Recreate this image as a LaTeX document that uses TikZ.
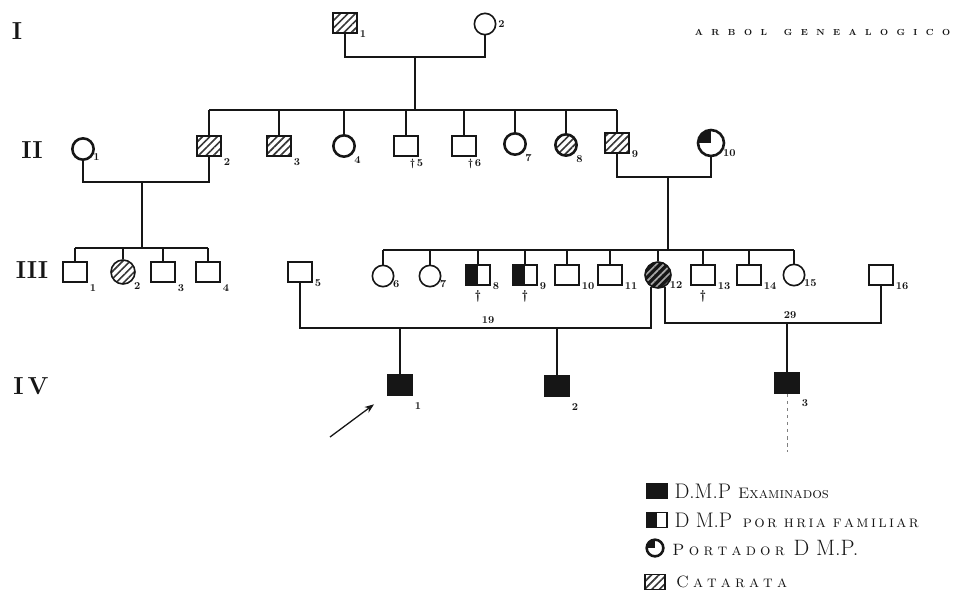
\documentclass[tikz,border=0pt]{standalone}
\usepackage{fontspec}
\usepackage{tikz}
\usetikzlibrary{patterns.meta,arrows.meta,positioning,calc}
\definecolor{ink}{RGB}{22,22,22}
\definecolor{hatch}{RGB}{55,55,55}
\newcommand\tk{\kern7.2pt}
\makeatletter
\newcommand\spreadit[2]{\def\sp@k{#1}\sp@loop#2\@nil}
\def\sp@loop#1{\ifx#1\@nil\else#1\kern\sp@k\expandafter\sp@loop\fi}
\makeatother

\begin{document}
\begin{tikzpicture}[x=0.03cm,y=-0.03cm,line width=1.4pt,color=ink,
  male/.style={draw=ink,minimum width=0.72cm,minimum height=0.6cm,inner sep=0pt},
  female/.style={draw=ink,circle,minimum size=0.64cm,inner sep=0pt},
  bold/.style={line width=2.2pt},
  cat/.style={pattern={Lines[angle=45,distance=4.5pt,line width=1.4pt]},pattern color=hatch},
  dmp/.style={fill=ink},
  half/.style={path picture={\fill[ink] (path picture bounding box.south west) rectangle (path picture bounding box.north);}},
  carrier/.style={path picture={\fill[ink] (path picture bounding box.center) -- (path picture bounding box.west) |- (path picture bounding box.north) -- cycle;}},
  num/.style={font=\fontsize{9}{9}\selectfont\bfseries,inner sep=1pt,text=ink},
  nb/.style={label={[num,anchor=north west]south east:#1}},
  nr/.style={label={[num,anchor=west]south east:#1}},
  dead/.style={label={[num,yshift=-2pt,font=\fontsize{11}{11}\selectfont\bfseries]below:\textdagger}},
  gen/.style={font=\fontsize{21}{21}\selectfont\bfseries,text=ink,inner sep=0pt},
  title/.style={font=\fontsize{7.5}{7.5}\selectfont\bfseries,text=ink,inner sep=0pt},
  legsq/.style={draw=ink,minimum width=0.6cm,minimum height=0.45cm,inner sep=0pt},
  legtext/.style={font=\fontsize{14}{14}\selectfont,text=ink,inner sep=0pt,anchor=west},
  arr/.style={-{Stealth[length=8pt,width=6pt]},line width=1.1pt,shorten >=14pt}]
  \useasboundingbox (0,0) rectangle (954,615);

  \node[gen] (gI) at (17,31) {I};
  \node[gen] (gII) at (32,150) {II};
  \node[gen] (gIII) at (32,270) {III};
  \node[gen] (gIV) at (31,386) {I\,V};
  \node[title,anchor=east] (ttl) at (951,32) {A\tk R\tk B\tk O\tk L\tk\tk G\tk E\tk N\tk E\tk A\tk L\tk O\tk G\tk I\tk C\tk O};

  \node[male,cat,nr=1] (I1) at (345,23) {};
  \node[female,label={[num,anchor=west]east:2}] (I2) at (485,24) {};

  \node[female,bold,nr=1] (II1) at (83,149) {};
  \node[male,cat,nb=2] (II2) at (209,146) {};
  \node[male,cat,nb=3] (II3) at (279,146) {};
  \node[female,bold,nb=4] (II4) at (344,146) {};
  \node[male,label={[num,anchor=north,xshift=9pt]south:\textdagger\,5}] (II5) at (406,146) {};
  \node[male,label={[num,anchor=north,xshift=9pt]south:\textdagger\,6}] (II6) at (464,146) {};
  \node[female,bold,nb=7] (II7) at (515,144) {};
  \node[female,bold,cat,nb=8] (II8) at (566,145) {};
  \node[male,cat,nr=9] (II9) at (617,143) {};
  \node[female,bold,carrier,minimum size=0.78cm,nr=10] (II10) at (711,143) {};

  \node[male,nb=1] (III1) at (75,272) {};
  \node[female,cat,minimum size=0.72cm,nb=2] (III2) at (123,272) {};
  \node[male,nb=3] (III3) at (163,272) {};
  \node[male,nb=4] (III4) at (208,272) {};
  \node[male,nr=5] (III5) at (300,272) {};
  \node[female,nr=6] (III6) at (383,276) {};
  \node[female,nr=7] (III7) at (430,276) {};
  \node[male,half,nr=8,dead] (III8) at (478,275) {};
  \node[male,half,nr=9,dead] (III9) at (525,275) {};
  \node[male,nr=10] (III10) at (567,275) {};
  \node[male,nr=11] (III11) at (610,275) {};
  \node[female,cat,pattern color=gray!70,preaction={fill=ink},minimum size=0.78cm,nr=12] (III12) at (658,275) {};
  \node[male,nr=13,dead] (III13) at (703,275) {};
  \node[male,nr=14] (III14) at (749,275) {};
  \node[female,nr=15] (III15) at (794,275) {};
  \node[male,nr=16] (III16) at (881,275) {};

  \node[male,dmp,label={[num,anchor=north west,yshift=-4pt]south east:1}] (IV1) at (400,385) {};
  \node[male,dmp,label={[num,anchor=north west,yshift=-4pt]south east:2}] (IV2) at (557,386) {};
  \node[male,dmp,label={[num,anchor=north west,yshift=-3pt]south east:3}] (IV3) at (787,383) {};

  \coordinate (m1) at (415,57);
  \coordinate (s1) at (415,110);
  \draw (I1.south) |- (m1) -| (I2.south);
  \draw (m1) -- (s1);
  \draw (II2.north |- s1) -- (II9.north |- s1);
  \foreach \k in {2,...,9} \draw (II\k.north) -- (II\k.north |- s1);

  \coordinate (m2) at (142,182);
  \coordinate (s2) at (142,248);
  \draw (II1.south) |- (m2) -| (II2.south);
  \draw (m2) -- (s2);
  \draw (III1.north |- s2) -- (III4.north |- s2);
  \foreach \k in {1,...,4} \draw (III\k.north) -- (III\k.north |- s2);

  \coordinate (m3) at (668,177);
  \coordinate (s3) at (668,250);
  \draw (II9.south) |- (m3) -| (II10.south);
  \draw (m3) -- (s3);
  \draw (III6.north |- s3) -- (III15.north |- s3);
  \foreach \k in {6,...,15} \draw (III\k.north) -- (III\k.north |- s3);

  \coordinate (m4) at (400,328);
  \draw (III5.south) |- (m4) -| (III12.240);
  \node[num] (y19) at (488,320) {19};
  \draw (IV1.north) -- (IV1.north |- m4);
  \draw (IV2.north) -- (IV2.north |- m4);

  \coordinate (m5) at (787,323);
  \draw (III12.300) |- (m5) -| (III16.south);
  \node[num] (y29) at (790,315) {29};
  \draw (IV3.north) -- (IV3.north |- m5);
  \coordinate (d3) at (787,452);
  \draw[dashed,line width=0.6pt,gray] (IV3.south) -- (d3);

  \coordinate (ptail) at (330,437);
  \draw[arr] (ptail) -- (IV1);

  \node[legsq,dmp] (L1) at (657,491) {};
  \node[legsq,half] (L2) at (657,520) {};
  \node[female,bold,carrier,minimum size=0.5cm] (L3) at (655,548) {};
  \node[legsq,cat] (L4) at (655,582) {};
  \node[legtext,right=5pt of L1] (L1t) {{\fontsize{18}{18}\selectfont D.M.P}\hspace{6pt}{\fontsize{13}{13}\selectfont\textsc{Examinados}}};
  \node[legtext,right=5pt of L2] (L2t) {{\fontsize{18}{18}\selectfont D M.P}\hspace{9pt}\textsc{\spreadit{2pt}{por}\hspace{4pt}\spreadit{2pt}{hria}\hspace{4pt}\spreadit{2pt}{familiar}}};
  \node[legtext,right=6pt of L3] (L3t) {\textsc{\spreadit{3.6pt}{Portador}}\hspace{4pt}{\fontsize{19}{19}\selectfont D M.P.}};
  \node[legtext,right=8pt of L4] (L4t) {\textsc{\spreadit{3.5pt}{Catarata}}};
\end{tikzpicture}
\end{document}
